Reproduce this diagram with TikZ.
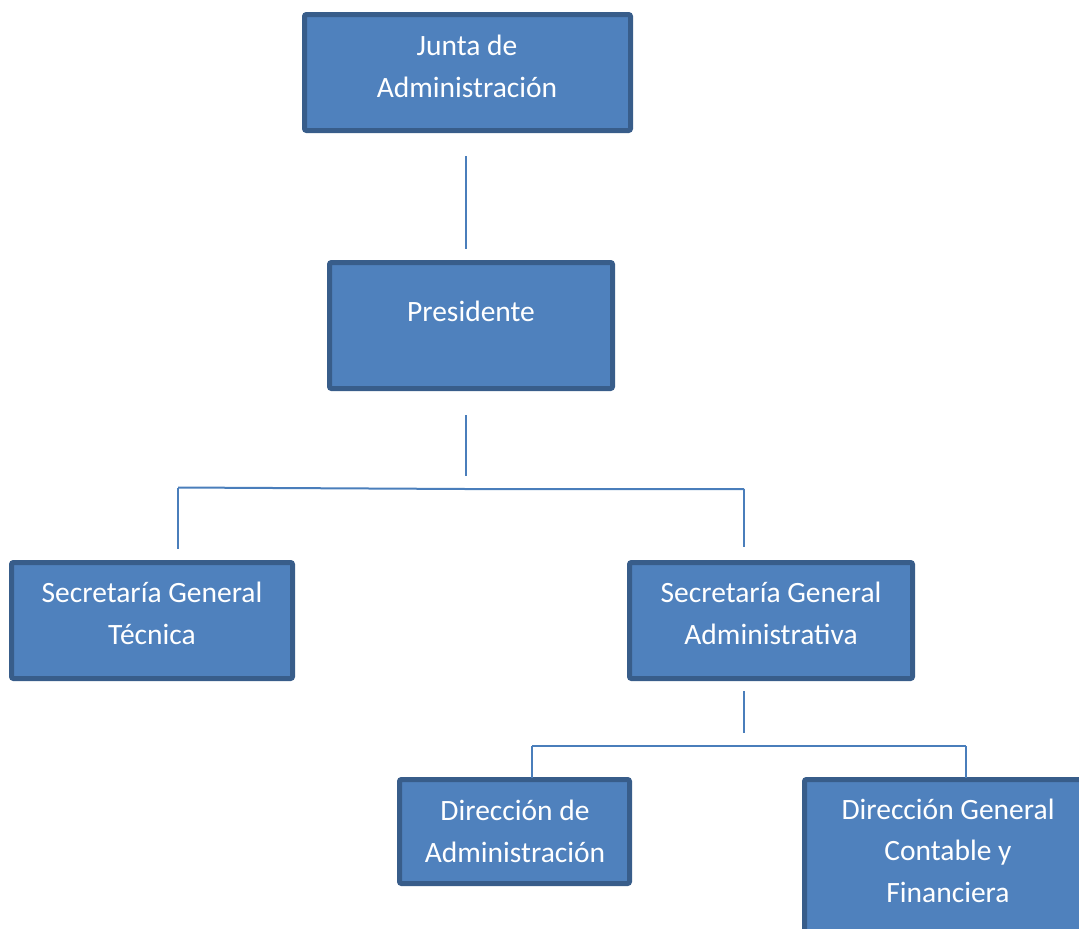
\documentclass[tikz,border=0pt]{standalone}
\usepackage{fontspec}
\setmainfont{Carlito}
\definecolor{boxfill}{HTML}{4F81BD}
\definecolor{boxline}{HTML}{385D8A}
\definecolor{connc}{HTML}{4A7EBB}
\begin{document}
\begin{tikzpicture}[x=1pt,y=-1pt,
  box/.style={draw=boxline, fill=boxfill, line width=5pt, rounded corners=2pt, inner sep=0pt, outer sep=0pt},
  lbl/.style={text=white, font=\fontsize{29.5}{41.5}\selectfont, align=center, inner sep=0pt, anchor=base},
  conn/.style={draw=connc, line width=2pt}]
\useasboundingbox (0,0) rectangle (1079,929);
\clip (0,0) rectangle (1079,929);
% boxes
\node[box, minimum width=326pt, minimum height=116pt] (junta) at (467.5,72.5) {};
\node[box, minimum width=283pt, minimum height=126pt] (pres) at (471,325.5) {};
\node[box, minimum width=281pt, minimum height=116pt] (sgt) at (152,620.5) {};
\node[box, minimum width=283pt, minimum height=116pt] (sga) at (771,620.5) {};
\node[box, minimum width=230pt, minimum height=104pt] (da) at (514.5,831.5) {};
\node[box, minimum width=287pt, minimum height=178pt] (dgcf) at (948,868.5) {};
% labels (anchor base = baseline of last line)
\node[lbl] (tjunta) at (467,97) {Junta de\\Administración};
\node[lbl] (tpres) at (471,321) {Presidente};
\node[lbl] (tsgt) at (152,644) {Secretaría General\\Técnica};
\node[lbl] (tsga) at (771,644) {Secretaría General\\Administrativa};
\node[lbl] (tda) at (515,862) {Dirección de\\Administración};
\node[lbl] (tdgcf) at (948,902) {Dirección General\\Contable y\\Financiera};
% connector points
\coordinate (j1) at (466,156);
\coordinate (j2) at (466,249);
\coordinate (p1) at (466,415);
\coordinate (p2) at (466,476);
\coordinate (bl) at (178,487.5);
\coordinate (bm) at (466,489);
\coordinate (br) at (744,489);
\coordinate (bl2) at (178,549);
\coordinate (br2) at (744,547);
\coordinate (s1) at (744,691);
\coordinate (s2) at (744,733);
\coordinate (dl) at (532,746);
\coordinate (dr) at (966,746);
\coordinate (dl2) at (532,778);
\coordinate (dr2) at (966,778);
% connectors
\draw[conn] (j1) -- (j2);
\draw[conn] (p1) -- (p2);
\draw[conn] (bl) -- (bm) -- (br);
\draw[conn] (bl) -- (bl2);
\draw[conn] (br) -- (br2);
\draw[conn] (s1) -- (s2);
\draw[conn] (dl) -- (dr);
\draw[conn] (dl) -- (dl2);
\draw[conn] (dr) -- (dr2);
\end{tikzpicture}
\end{document}
